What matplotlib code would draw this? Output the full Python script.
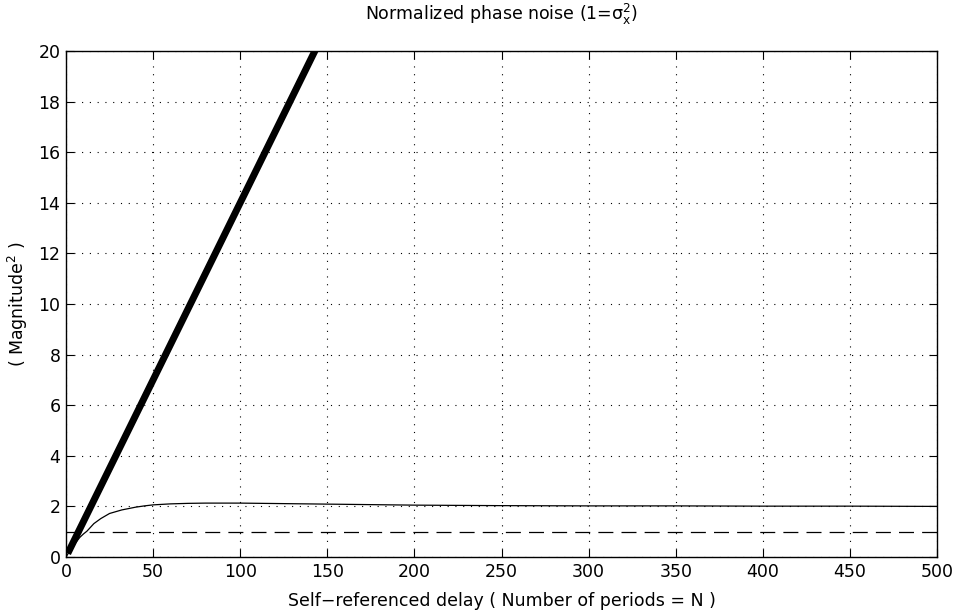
import numpy as np
import matplotlib
matplotlib.use("Agg")
import matplotlib.pyplot as plt

plt.rcParams['font.family'] = ['DejaVu Sans']
plt.rcParams['mathtext.fontset'] = 'dejavusans'

# thick straight line (linear growth)
lin_n = [1, 50, 100, 145]
lin_y = [0.14, 7.0, 14.0, 20.3]

# thin curve (normalized phase noise)
curve_n = [0, 2, 5, 8, 10, 12, 16, 20, 25, 32, 40, 45, 50, 60, 70, 80, 100,
           125, 150, 175, 200, 250, 300, 350, 400, 450, 500]
curve_y = [0.0, 0.22, 0.52, 0.78, 0.91, 1.02, 1.32, 1.52, 1.72, 1.86, 1.97, 2.02, 2.06,
           2.10, 2.12, 2.13, 2.13, 2.11, 2.09, 2.07, 2.05, 2.03, 2.02, 2.02, 2.01, 2.01, 2.0]

# reference level
ref_n = [0, 500]
ref_y = [1, 1]

fig = plt.figure(figsize=(9.56, 6.10), dpi=100)
ax = fig.add_axes([66/956, 1-557/610, (937-66)/956, (557-51)/610])

ax.plot(lin_n, lin_y, color='black', linewidth=5, solid_capstyle='butt')
ax.plot(curve_n, curve_y, color='black', linewidth=0.9)
ax.plot(ref_n, ref_y, color='black', linewidth=0.9, linestyle=(0, (12, 6.5)))

ax.set_xlim(0, 500)
ax.set_ylim(0, 20)
ax.set_xticks(np.arange(0, 501, 50))
ax.set_yticks(np.arange(0, 21, 2))
ax.grid(True, color='black', linestyle=(0, (1, 6)), linewidth=0.8)
ax.tick_params(direction='in', top=True, right=True, labelsize=12.5, length=6, width=0.8)
ax.tick_params(axis='x', pad=4)
ax.tick_params(axis='y', pad=4)
for s in ax.spines.values():
    s.set_linewidth(1.0)

ax.set_title(r'Normalized phase noise (1=$\mathregular{\sigma_x^2}$)', fontsize=12.5, pad=22)
ax.set_xlabel('Self\u2212referenced delay ( Number of periods = N )', fontsize=12.5, labelpad=8)
ax.set_ylabel(r'( Magnitude$\mathregular{^2}$ )', fontsize=12.5, labelpad=6)

fig.savefig('out.png', dpi=100)
